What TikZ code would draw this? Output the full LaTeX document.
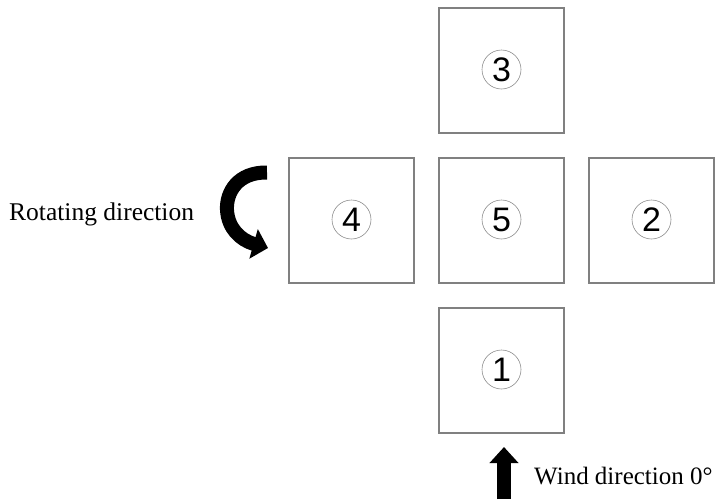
\documentclass[tikz,border=0pt]{standalone}
\usepackage{fontspec}
\setmainfont{Liberation Serif}
\newfontfamily\digitfont{Liberation Sans}
\usetikzlibrary{arrows.meta}
\begin{document}
\begin{tikzpicture}[x=1pt,y=-1pt,
  cell/.style={draw=black!50,line width=1.2pt,minimum width=125pt,minimum height=125pt,inner sep=0pt},
  num/.style={draw=black!45,line width=0.6pt,circle,minimum size=39pt,inner sep=0pt,font=\digitfont\fontsize{34}{34}\selectfont},
  lbl/.style={font=\fontsize{25.5}{25.5}\selectfont,inner sep=0pt,anchor=base west},
  bigarrow/.style={line width=14pt,-{Triangle[length=15pt,width=30pt]}}]
\useasboundingbox (0,0) rectangle (718,499);
\node[cell] (b3) at (501.5,70.5) {};
\node[cell] (b4) at (351.5,220.5) {};
\node[cell] (b5) at (501.5,220.5) {};
\node[cell] (b2) at (651.5,220.5) {};
\node[cell] (b1) at (501.5,370.5) {};
\node[num] (n3) at ([yshift=1pt]b3) {3};
\node[num] (n4) at ([yshift=1pt]b4) {4};
\node[num] (n5) at ([yshift=1pt]b5) {5};
\node[num] (n2) at ([yshift=1pt]b2) {2};
\node[num] (n1) at ([yshift=1pt]b1) {1};
\node[lbl] (rot) at (9,220) {Rotating direction};
\node[lbl,font=\fontsize{25}{25}\selectfont] (wind) at (534,484) {Wind direction 0°};
\coordinate (rs) at (267,172.5);
\coordinate (re) at (268,248);
\draw[bigarrow] (rs) .. controls (238,172) and (226,192) .. (227,210) .. controls (228,228) and (240,240) .. (re);
\coordinate (ws) at (504,499);
\coordinate (we) at (504,447);
\draw[line width=14pt,-{Triangle[length=16pt,width=28pt]}] (ws) -- (we);
\end{tikzpicture}
\end{document}
